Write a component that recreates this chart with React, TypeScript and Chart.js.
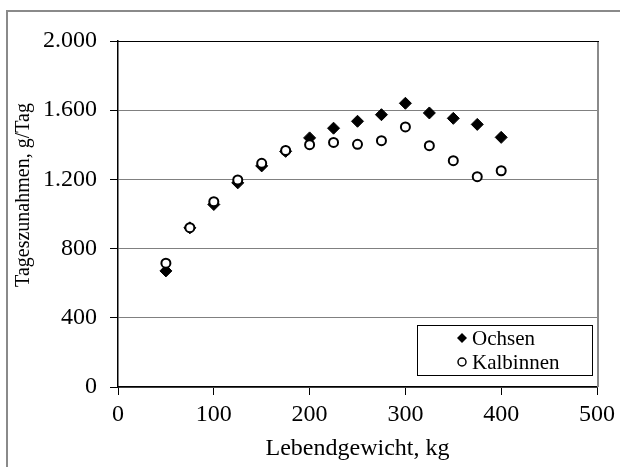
import React, { useEffect, useRef } from "react";
import { Chart, registerables } from "chart.js";

Chart.register(...registerables);

const weights = [50, 75, 100, 125, 150, 175, 200, 225, 250, 275, 300, 325, 350, 375, 400];
const ochsen = [671, 920, 1055, 1180, 1278, 1362, 1440, 1496, 1536, 1574, 1640, 1584, 1553, 1518, 1443];
const kalbinnen = [716, 921, 1071, 1197, 1293, 1367, 1401, 1414, 1403, 1424, 1503, 1395, 1308, 1216, 1250];
const seriesNames = ["Ochsen", "Kalbinnen"];
const xTickValues = [0, 100, 200, 300, 400, 500];
const yTickValues = [0, 400, 800, 1200, 1600, 2000];
const xTitle = "Lebendgewicht, kg";
const yTitle = "Tageszunahmen, g/Tag";

const FONT = "'Liberation Serif', 'Times New Roman', serif";

function fmtDE(v: number): string {
  const s = String(Math.round(v));
  return s.replace(/\B(?=(\d{3})+(?!\d))/g, ".");
}

const decorPlugin = {
  id: "decor",
  beforeDraw(chart: any) {
    const ctx = chart.ctx;
    ctx.save();
    ctx.fillStyle = "#fff";
    ctx.fillRect(0, 0, chart.width, chart.height);
    ctx.strokeStyle = "#8a8a8a";
    ctx.lineWidth = 2;
    ctx.strokeRect(7, 11, 800, 800);
    ctx.restore();
  },
  afterDatasetsDraw(chart: any) {
    const ctx = chart.ctx;
    const a = chart.chartArea;
    ctx.save();
    ctx.strokeStyle = "#8a8a8a";
    ctx.lineWidth = 2;
    ctx.beginPath();
    ctx.moveTo(a.right + 1, a.top);
    ctx.lineTo(a.right + 1, a.bottom);
    ctx.stroke();
    ctx.strokeStyle = "#000";
    ctx.lineWidth = 1;
    ctx.beginPath();
    ctx.moveTo(a.left, a.top + 0.5);
    ctx.lineTo(a.right + 2, a.top + 0.5);
    ctx.stroke();

    // y title
    ctx.fillStyle = "#000";
    ctx.font = `20px ${FONT}`;
    ctx.textAlign = "center";
    ctx.textBaseline = "alphabetic";
    ctx.translate(29, 195);
    ctx.rotate(-Math.PI / 2);
    ctx.fillText(yTitle, 0, 0);
    ctx.restore();

    // legend
    ctx.save();
    const bx = 417.5, by = 325.5, bw = 175, bh = 50;
    ctx.fillStyle = "#fff";
    ctx.fillRect(bx, by, bw, bh);
    ctx.strokeStyle = "#000";
    ctx.lineWidth = 1;
    ctx.strokeRect(bx, by, bw, bh);
    ctx.font = `21px ${FONT}`;
    ctx.textAlign = "left";
    ctx.textBaseline = "middle";
    chart.data.datasets.forEach((ds: any, i: number) => {
      const cy = 338 + i * 24;
      const mx = 462;
      if (ds.pointStyle === "rectRot") {
        ctx.fillStyle = "#000";
        ctx.beginPath();
        ctx.moveTo(mx, cy - 5);
        ctx.lineTo(mx + 5, cy);
        ctx.lineTo(mx, cy + 5);
        ctx.lineTo(mx - 5, cy);
        ctx.closePath();
        ctx.fill();
      } else {
        ctx.strokeStyle = "#000";
        ctx.lineWidth = 1.5;
        ctx.beginPath();
        ctx.arc(mx, cy, 4, 0, Math.PI * 2);
        ctx.stroke();
      }
      ctx.fillStyle = "#000";
      ctx.fillText(ds.label, 472, cy + 1);
    });
    ctx.restore();
  },
};

export default function App() {
  const ref = useRef<HTMLCanvasElement | null>(null);
  useEffect(() => {
    if (!ref.current) return;
    const chart = new Chart(ref.current, {
      type: "scatter",
      data: {
        datasets: [
          {
            label: seriesNames[0],
            data: weights.map((w, i) => ({ x: w, y: ochsen[i] })),
            pointStyle: "rectRot",
            pointRadius: 6,
            backgroundColor: "#000",
            borderColor: "#000",
            borderWidth: 1,
            order: 2,
          },
          {
            label: seriesNames[1],
            data: weights.map((w, i) => ({ x: w, y: kalbinnen[i] })),
            pointStyle: "circle",
            pointRadius: 4.5,
            backgroundColor: "#fff",
            borderColor: "#000",
            borderWidth: 2,
            order: 1,
          },
        ],
      },
      options: {
        animation: false,
        responsive: false,
        devicePixelRatio: 1,
        layout: { padding: { left: 0, top: 41, right: 17, bottom: 4 } },
        plugins: { legend: { display: false }, tooltip: { enabled: false } },
        scales: {
          x: {
            type: "linear",
            min: 0,
            max: 500,
            afterBuildTicks: (s: any) => {
              s.ticks = xTickValues.map((v) => ({ value: v }));
            },
            afterFit: (s: any) => {
              s.height = 76;
            },
            ticks: {
              color: "#000",
              font: { family: FONT, size: 24 },
              padding: 5,
              maxRotation: 0,
              callback: (v: any) => fmtDE(Number(v)),
            },
            grid: { drawOnChartArea: false, drawTicks: true, tickLength: 8, tickColor: "#000", tickWidth: 1 },
            border: { display: true, color: "#000", width: 1.5 },
            title: { display: true, text: xTitle, color: "#000", font: { family: FONT, size: 24 }, padding: 0 },
          },
          y: {
            type: "linear",
            min: 0,
            max: 2000,
            afterBuildTicks: (s: any) => {
              s.ticks = yTickValues.map((v) => ({ value: v }));
            },
            afterFit: (s: any) => {
              s.width = 118;
            },
            ticks: {
              color: "#000",
              font: { family: FONT, size: 24 },
              padding: 13,
              callback: (v: any) => fmtDE(Number(v)),
            },
            grid: { color: "#808080", lineWidth: 1, drawTicks: true, tickLength: 8, tickColor: "#000", tickWidth: 1 },
            border: { display: true, color: "#000", width: 1.5 },
          },
        },
      },
      plugins: [decorPlugin],
    } as any);
    return () => chart.destroy();
  }, []);
  return (
    <div style={{ position: "absolute", left: 0, top: 0, width: 620, height: 467 }}>
      <canvas ref={ref} width={620} height={467} style={{ display: "block", width: 620, height: 467 }} />
    </div>
  );
}
